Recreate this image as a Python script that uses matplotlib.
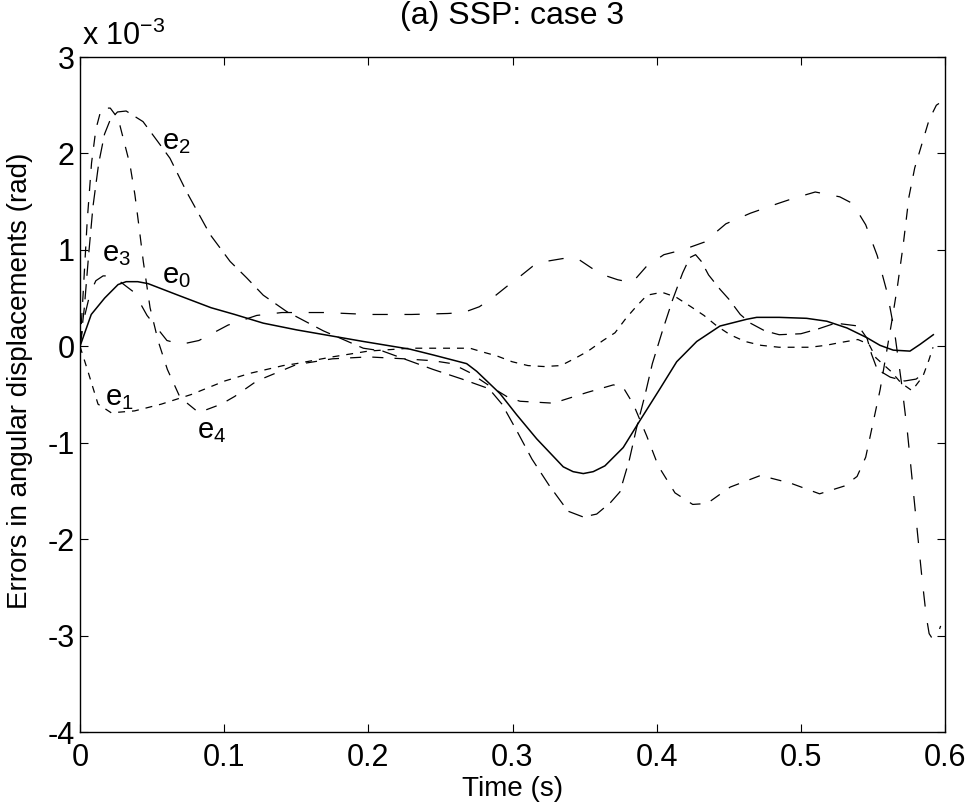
import matplotlib
matplotlib.use('Agg')
import matplotlib.pyplot as plt

plt.rcParams['font.family'] = ['Liberation Sans', 'DejaVu Sans']
plt.rcParams['mathtext.fontset'] = 'custom'
plt.rcParams['mathtext.rm'] = 'Liberation Sans'
plt.rcParams['mathtext.it'] = 'Liberation Sans'
plt.rcParams['lines.scale_dashes'] = False

# ---- data (errors in units of 1e-3 rad) ----
t_e0 = [0, 0.0078, 0.0171, 0.0264, 0.032, 0.04, 0.0472, 0.068, 0.0909, 0.1073, 0.1271, 0.1503,
        0.1734, 0.1965, 0.2289, 0.245, 0.2682, 0.2752, 0.2913, 0.3029, 0.3168, 0.3352,
        0.342, 0.3491, 0.356, 0.3641, 0.3768, 0.3884, 0.4023, 0.4139, 0.4278, 0.4439, 0.4624, 0.4694,
        0.485, 0.504, 0.518, 0.532, 0.5457, 0.5549, 0.5641, 0.5757, 0.5827, 0.5919]
e0 = [0, 0.33, 0.50, 0.64, 0.67, 0.67, 0.65, 0.53, 0.40, 0.33, 0.24, 0.17,
      0.11, 0.05, -0.03, -0.09, -0.18, -0.26, -0.49, -0.71, -0.96, -1.25,
      -1.30, -1.32, -1.30, -1.24, -1.05, -0.77, -0.44, -0.16, 0.05, 0.21, 0.28, 0.30,
      0.30, 0.29, 0.26, 0.19, 0.09, 0.01, -0.04, -0.05, 0.02, 0.12]

t_e1 = [0, 0.0055, 0.0125, 0.0217, 0.0379, 0.0564, 0.0772, 0.1004, 0.118, 0.141, 0.15,
        0.175, 0.2, 0.2289, 0.2497, 0.2705, 0.2795, 0.2892, 0.2997, 0.3107, 0.3218,
        0.3336, 0.344, 0.3524, 0.3628, 0.3711, 0.3787, 0.3857, 0.3933, 0.4037, 0.4134,
        0.4238, 0.4328, 0.4418, 0.4509, 0.4613, 0.4724, 0.4849, 0.5063, 0.5174, 0.5278,
        0.5396, 0.5473, 0.5521, 0.5625, 0.5695, 0.5771, 0.5847, 0.5889, 0.5917]
e1 = [0, -0.26, -0.60, -0.69, -0.67, -0.60, -0.50, -0.36, -0.28, -0.20, -0.18,
      -0.11, -0.05, -0.02, -0.02, -0.02, -0.06, -0.10, -0.16, -0.20, -0.21,
      -0.20, -0.12, -0.05, 0.06, 0.14, 0.29, 0.41, 0.53, 0.56, 0.51,
      0.41, 0.32, 0.21, 0.12, 0.05, 0.01, -0.01, -0.01, 0.01, 0.04,
      0.07, 0.02, -0.12, -0.26, -0.38, -0.46, -0.31, -0.14, -0.01]

t_e2 = [0, 0.003, 0.006, 0.009, 0.013, 0.017, 0.021, 0.026, 0.032, 0.0437, 0.0541,
        0.0624, 0.074, 0.0902, 0.1041, 0.1156, 0.1271, 0.1434, 0.1688, 0.1965, 0.21,
        0.2449, 0.265, 0.2837, 0.2927, 0.3031, 0.3135, 0.3253, 0.3385, 0.349, 0.3584,
        0.368, 0.3745, 0.381, 0.386, 0.392, 0.397, 0.404, 0.411, 0.418, 0.423, 0.427,
        0.431, 0.436, 0.444, 0.45, 0.458, 0.465, 0.475, 0.485, 0.5, 0.512,
        0.524, 0.54, 0.546, 0.549, 0.553, 0.562, 0.572, 0.58, 0.586]
e2 = [0, 0.4, 0.95, 1.45, 1.9, 2.2, 2.35, 2.43, 2.44, 2.33, 2.12,
      1.95, 1.60, 1.16, 0.88, 0.71, 0.53, 0.36, 0.16, -0.02, -0.05,
      -0.24, -0.34, -0.44, -0.60, -0.88, -1.17, -1.44, -1.71, -1.77, -1.74,
      -1.62, -1.51, -1.18, -0.85, -0.50, -0.18, 0.16, 0.48, 0.76, 0.92, 0.95,
      0.88, 0.74, 0.59, 0.49, 0.33, 0.24, 0.16, 0.12, 0.13, 0.18,
      0.24, 0.21, 0.08, -0.08, -0.24, -0.32, -0.36, -0.34, -0.27]

t_e3 = [0, 0.003, 0.007, 0.011, 0.016, 0.021, 0.027, 0.0375, 0.0465, 0.0603, 0.07,
        0.0825, 0.1027, 0.1226, 0.14, 0.17, 0.2, 0.23, 0.255, 0.266, 0.277,
        0.286, 0.296, 0.304, 0.314, 0.323, 0.335, 0.345, 0.355, 0.363, 0.373,
        0.383, 0.393, 0.405, 0.418, 0.433, 0.448, 0.465, 0.484, 0.494, 0.51,
        0.527, 0.536, 0.545, 0.553, 0.56, 0.565, 0.57, 0.574, 0.578, 0.581,
        0.584, 0.587, 0.589, 0.592, 0.594, 0.597]
e3 = [0, 0.30, 0.55, 0.68, 0.73, 0.73, 0.68, 0.56, 0.32, 0.06, 0.02,
      0.06, 0.22, 0.32, 0.35, 0.35, 0.33, 0.33, 0.34, 0.35, 0.41,
      0.50, 0.62, 0.71, 0.83, 0.88, 0.91, 0.91, 0.81, 0.74, 0.69,
      0.66, 0.83, 0.95, 1.00, 1.08, 1.27, 1.38, 1.48, 1.53, 1.60,
      1.55, 1.48, 1.26, 0.94, 0.55, 0.15, -0.40, -0.90, -1.50, -1.95,
      -2.40, -2.80, -2.98, -3.05, -3.02, -2.90]

t_e4 = [0, 0.002, 0.005, 0.008, 0.011, 0.014, 0.017, 0.021, 0.0245, 0.0277, 0.0347,
        0.0381, 0.0411, 0.0439, 0.0486, 0.0543, 0.0606, 0.0694, 0.0809, 0.0855, 0.098,
        0.1073, 0.1226, 0.15, 0.175, 0.2, 0.225, 0.245, 0.258, 0.27, 0.285,
        0.297, 0.3052, 0.3283, 0.3515, 0.37, 0.3769, 0.3838, 0.3931, 0.4011, 0.4127,
        0.425, 0.435, 0.451, 0.472, 0.493, 0.513, 0.53, 0.539, 0.545, 0.55,
        0.555, 0.559, 0.563, 0.567, 0.571, 0.575, 0.579, 0.584, 0.589, 0.594,
        0.596, 0.599]
e4 = [0, 0.5, 1.3, 1.9, 2.25, 2.42, 2.47, 2.47, 2.40, 2.29, 1.88,
      1.57, 1.22, 0.88, 0.40, 0.05, -0.24, -0.53, -0.67, -0.67, -0.60,
      -0.52, -0.36, -0.19, -0.13, -0.11, -0.13, -0.15, -0.18, -0.27, -0.42,
      -0.53, -0.57, -0.59, -0.48, -0.40, -0.43, -0.60, -0.93, -1.24, -1.52,
      -1.64, -1.63, -1.46, -1.34, -1.42, -1.53, -1.45, -1.35, -1.15, -0.80,
      -0.45, -0.10, 0.25, 0.62, 1.05, 1.55, 1.85, 2.10, 2.35, 2.50,
      2.52, 2.45]

xticks = [0, 0.1, 0.2, 0.3, 0.4, 0.5, 0.6]
xticklabels = ['0', '0.1', '0.2', '0.3', '0.4', '0.5', '0.6']
yticks = [-4, -3, -2, -1, 0, 1, 2, 3]
yticklabels = ['-4', '-3', '-2', '-1', '0', '1', '2', '3']

labels = ['e$_0$', 'e$_1$', 'e$_2$', 'e$_3$', 'e$_4$']
label_pos = [(0.0567, 0.73), (0.0173, -0.54), (0.0569, 2.12), (0.0151, 0.96), (0.0809, -0.88)]

# ---- figure ----
fig = plt.figure(figsize=(9.77, 8.10), dpi=100)
ax = fig.add_axes([80/977, 1-732/810, (945-80)/977, (732-57)/810])

lw = 0.9
ax.plot(t_e0, e0, color='black', lw=1.1, linestyle='-')
ax.plot(t_e1, e1, color='black', lw=lw, linestyle=(0, (5, 5)))
ax.plot(t_e2, e2, color='black', lw=lw, linestyle=(0, (11, 6)))
ax.plot(t_e3, e3, color='black', lw=lw, linestyle=(0, (11, 12)))
ax.plot(t_e4, e4, color='black', lw=lw, linestyle=(0, (8, 8)))

for lab, (x, y) in zip(labels, label_pos):
    ax.text(x, y, lab, fontsize=21, ha='left', va='center', color='black')

ax.set_xlim(0, 0.6)
ax.set_ylim(-4, 3)
ax.set_xticks(xticks)
ax.set_xticklabels(xticklabels)
ax.set_yticks(yticks)
ax.set_yticklabels(yticklabels)
ax.tick_params(direction='in', top=True, right=True, length=6, width=0.8,
               labelsize=22, pad=4)
ax.tick_params(axis='x', pad=8)
for s in ax.spines.values():
    s.set_linewidth(1.0)

ax.set_xlabel('Time (s)', fontsize=20, labelpad=2)
ax.set_ylabel('Errors in angular displacements (rad)', fontsize=20)
ax.yaxis.set_label_coords(-0.054, 0.52)
ax.set_title('(a) SSP: case 3', fontsize=23, pad=24)

fig.text(82/977, 1-45/810, 'x 10$^{-3}$', fontsize=22, ha='left', va='baseline')

fig.savefig('out.png', dpi=100)
